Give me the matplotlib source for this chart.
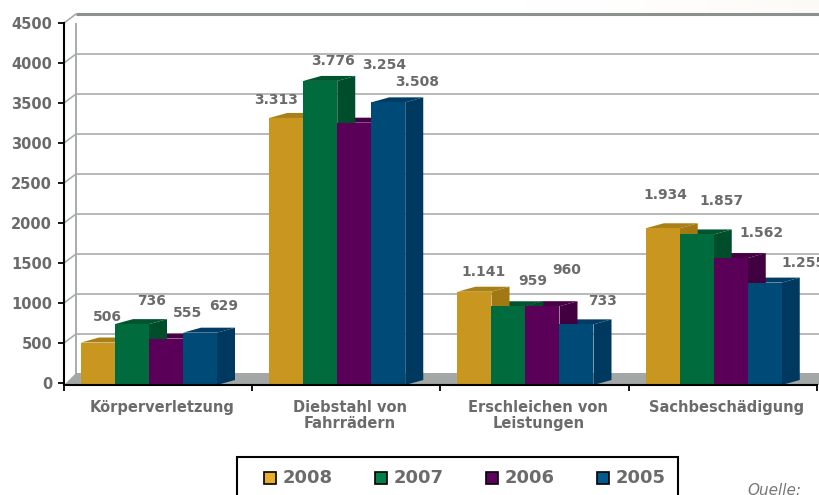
import matplotlib
matplotlib.use("Agg")
import matplotlib.pyplot as plt
from matplotlib.patches import Polygon, Rectangle
import numpy as np

# data
categories = ["Körperverletzung", "Diebstahl von\nFahrrädern",
              "Erschleichen von\nLeistungen", "Sachbeschädigung"]
years = ["2008", "2007", "2006", "2005"]
values = {
    "2008": [506, 3313, 1141, 1934],
    "2007": [736, 3776, 959, 1857],
    "2006": [555, 3254, 960, 1562],
    "2005": [629, 3508, 733, 1255],
}
yticks = [0, 500, 1000, 1500, 2000, 2500, 3000, 3500, 4000, 4500]

# label placement (pixels): sideways shift and lift above bar top
label_dx = {
    "2008": [0, -19, 0, -6],
    "2007": [11, 4, 15, 16],
    "2006": [13, 21, 15, 22],
    "2005": [15, 20, 17, 30],
}
label_lift = {
    "2008": [26, 18, 20, 33],
    "2007": [23, 20, 25, 33],
    "2006": [26, 58, 36, 25],
    "2005": [27, 20, 23, 20],
}

front = {"2008": "#C99720", "2007": "#006B3D", "2006": "#5B0058", "2005": "#004A78"}
side = {"2008": "#A27812", "2007": "#004D2B", "2006": "#41003F", "2005": "#003960"}
top = {"2008": "#A98015", "2007": "#00552F", "2006": "#470045", "2005": "#003D66"}
legend_col = {"2008": "#E8B02A", "2007": "#00804A", "2006": "#5F005F", "2005": "#005A8C"}
txt = "#6B6B6B"

W, H = 820, 495
fig = plt.figure(figsize=(W / 100, H / 100), dpi=100)

# faint cream glow top right
bg = fig.add_axes([0, 0, 1, 1], zorder=-5)
grad = np.linspace(0, 1, 256) ** 2 * 0.6
img = np.ones((1, 256, 4))
img[..., 0] = 0.985
img[..., 1] = 0.97
img[..., 2] = 0.945
img[..., 3] = grad
bg.imshow(img, extent=[500, 820, 495 - 13, 495], aspect="auto")
bg.set_xlim(0, W)
bg.set_ylim(0, H)
bg.axis("off")

ax_l, ax_r, ax_t, ax_b = 64, 817, 23, 385
ax = fig.add_axes([ax_l / W, 1 - ax_b / H, (ax_r - ax_l) / W, (ax_b - ax_t) / H])
ax.patch.set_alpha(0)
ymin, ymax = -25, 4500
ax.set_xlim(0, 4)
ax.set_ylim(ymin, ymax)

px_x = (ax_r - ax_l) / 4.0          # pixels per category
px_y = (ax_b - ax_t) / (ymax - ymin)  # pixels per value unit

# back wall and floor
wdx, wdy = 12 / px_x, 9 / px_y
floor_back = ymin + 12 / px_y
ax.add_patch(Polygon([(0, ymin), (4.2, ymin), (4.2 + wdx, floor_back), (wdx, floor_back)],
                     closed=True, fc="#A3A7A5", ec="none", zorder=1, clip_on=False))
for v in yticks[1:]:
    lw, col = (2.2, "#8C908E") if v == yticks[-1] else (1.4, "#B5B9B7")
    ax.plot([wdx, 4.3], [v + wdy, v + wdy], color=col, lw=lw, zorder=0.5,
            clip_on=False, solid_capstyle="butt")
    ax.plot([0, wdx], [v, v + wdy], color="#A8ACAA", lw=1.2, zorder=0.5, clip_on=False)
ax.plot([wdx, wdx], [floor_back, yticks[-1] + wdy], color="#A8ACAA", lw=1.4, zorder=0.5)

# bars
bw = 34 / px_x
start = 17 / px_x
bdx, bdy = 18 / px_x, 5 / px_y
for ci in range(len(categories)):
    for yi, yr in enumerate(years):
        v = values[yr][ci]
        x0 = ci + start + yi * bw
        x1 = x0 + bw
        ax.add_patch(Polygon([(x0, v), (x0 + bdx, v + bdy), (x1 + bdx, v + bdy), (x1, v)],
                             closed=True, fc=top[yr], ec="none", zorder=2))
        ax.add_patch(Polygon([(x1, ymin), (x1 + bdx, ymin + bdy), (x1 + bdx, v + bdy), (x1, v)],
                             closed=True, fc=side[yr], ec="none", zorder=3, clip_on=False))
        ax.add_patch(Rectangle((x0, ymin), bw, v - ymin, fc=front[yr], ec="none", zorder=4))
        ax.annotate(f"{v:,}".replace(",", "."), xy=(x0 + bw / 2 + bdx / 2, v),
                    xytext=(label_dx[yr][ci], label_lift[yr][ci]), textcoords="offset pixels",
                    ha="center", va="center", fontsize=10, fontweight="bold", color=txt,
                    zorder=6, annotation_clip=False)

# axes styling
for s in ["top", "right"]:
    ax.spines[s].set_visible(False)
for s in ["left", "bottom"]:
    ax.spines[s].set_color("black")
    ax.spines[s].set_linewidth(1.5)
    ax.spines[s].set_zorder(5)
ax.set_yticks(yticks)
ax.set_yticklabels([str(v) for v in yticks], fontsize=10.5, fontweight="bold", color=txt)
ax.tick_params(axis="y", direction="out", length=4.5, width=1.3, color="black", pad=4)
ax.set_xticks(range(5))
ax.set_xticklabels([])
ax.tick_params(axis="x", which="major", direction="out", length=4.5, width=1.3, color="black")
ax.set_xticks([i + 0.52 for i in range(4)], minor=True)
ax.set_xticklabels(categories, minor=True, fontsize=10.5, fontweight="bold", color=txt,
                   linespacing=1.05, va="top")
ax.tick_params(axis="x", which="minor", length=0, pad=11)


# legend drawn by hand
def fx(px):
    return px / W


def fy(py):
    return 1 - py / H


fig.patches.append(Rectangle((fx(237), fy(500)), fx(678) - fx(237), fy(457) - fy(500),
                             transform=fig.transFigure, fc="white", ec="black", lw=1.5))
for i, yr in enumerate(years):
    sx = 264 + i * 111
    fig.patches.append(Rectangle((fx(sx), fy(484)), fx(12), 12 / H, transform=fig.transFigure,
                                 fc=legend_col[yr], ec="black", lw=1.2))
    fig.text(fx(sx + 19), fy(478), yr, fontsize=13, fontweight="bold", color=txt,
             ha="left", va="center")

fig.text(fx(747), fy(483), "Quelle:", fontsize=11, style="italic", color="#777777",
         ha="left", va="top")

fig.savefig("out.png", dpi=100)
